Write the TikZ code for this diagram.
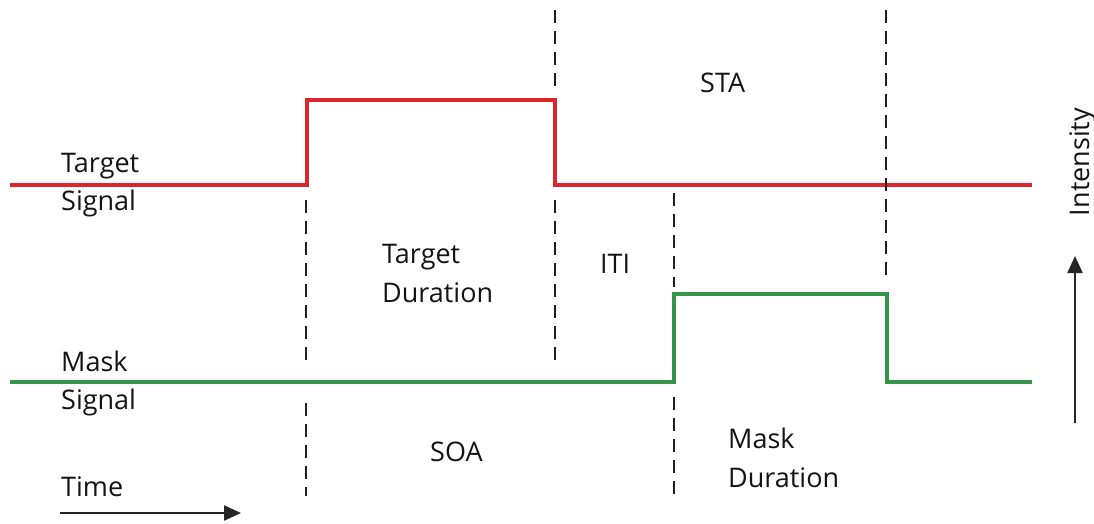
\documentclass[tikz,border=0pt]{standalone}
\usepackage{fontspec}
\setmainfont{Open Sans}
\usetikzlibrary{arrows.meta}
\definecolor{sigred}{RGB}{220,38,44}
\definecolor{siggreen}{RGB}{52,150,74}
\tikzset{
  lbl/.style={anchor=base west, inner sep=0pt, font=\fontsize{27}{34}\selectfont, text=black!92},
  redsig/.style={draw=sigred, line width=3.1pt, line join=miter},
  greensig/.style={draw=siggreen, line width=3.1pt, line join=miter},
  dashln/.style={draw=black!88, line width=2.6pt, dash pattern=on 13pt off 8pt},
  axisarrow/.style={draw=black!85, line width=2.2pt, -{Triangle[length=17pt,width=15pt]}}
}
\begin{document}
\begin{tikzpicture}[x=1pt,y=-1pt]
\useasboundingbox (0,0) rectangle (1094,523);
% red target signal
\coordinate (r0) at (10,185);
\coordinate (r1) at (307,185);
\coordinate (r2) at (307,100);
\coordinate (r3) at (555,100);
\coordinate (r4) at (555,185);
\coordinate (r5) at (1032,185);
\draw[redsig] (r0) -- (r1) -- (r2) -- (r3) -- (r4) -- (r5);
% green mask signal
\coordinate (g0) at (10,382);
\coordinate (g1) at (674,382);
\coordinate (g2) at (674,294);
\coordinate (g3) at (887,294);
\coordinate (g4) at (887,382);
\coordinate (g5) at (1032,382);
\draw[greensig] (g0) -- (g1) -- (g2) -- (g3) -- (g4) -- (g5);
% dashed markers
\coordinate (d1a) at (306,200); \coordinate (d1b) at (306,365);
\coordinate (d1c) at (306,403); \coordinate (d1d) at (306,496);
\coordinate (d2a) at (555,10);  \coordinate (d2b) at (555,88);
\coordinate (d2c) at (555,200); \coordinate (d2d) at (555,365);
\coordinate (d3a) at (674,193); \coordinate (d3b) at (674,287);
\coordinate (d3c) at (674,397); \coordinate (d3d) at (674,496);
\coordinate (d4a) at (886,10);  \coordinate (d4b) at (886,282);
\draw[dashln] (d1a) -- (d1b);
\draw[dashln] (d1c) -- (d1d);
\draw[dashln] (d2a) -- (d2b);
\draw[dashln] (d2c) -- (d2d);
\draw[dashln] (d3a) -- (d3b);
\draw[dashln] (d3c) -- (d3d);
\draw[dashln] (d4a) -- (d4b);
% labels
\node[lbl] (ts1) at (61,172) {Target};
\node[lbl] (ts2) at (61,210) {Signal};
\node[lbl] (ms1) at (61,371) {Mask};
\node[lbl] (ms2) at (61,409) {Signal};
\node[lbl] (td1) at (382,263) {Target};
\node[lbl] (td2) at (382,302) {Duration};
\node[lbl] (iti) at (600,273) {ITI};
\node[lbl] (sta) at (700,92) {STA};
\node[lbl] (soa) at (430,461) {SOA};
\node[lbl] (md1) at (728,448) {Mask};
\node[lbl] (md2) at (728,487) {Duration};
\node[lbl] (time) at (61,496) {Time};
\node[inner sep=0pt, anchor=base, rotate=90, font=\fontsize{27}{34}\selectfont, text=black!92] (inten) at (1089,162) {Intensity};
% axis arrows
\coordinate (ta0) at (60,513); \coordinate (ta1) at (241,513);
\draw[axisarrow] (ta0) -- (ta1);
\coordinate (ia0) at (1075,423); \coordinate (ia1) at (1075,256);
\draw[axisarrow] (ia0) -- (ia1);
\end{tikzpicture}
\end{document}
